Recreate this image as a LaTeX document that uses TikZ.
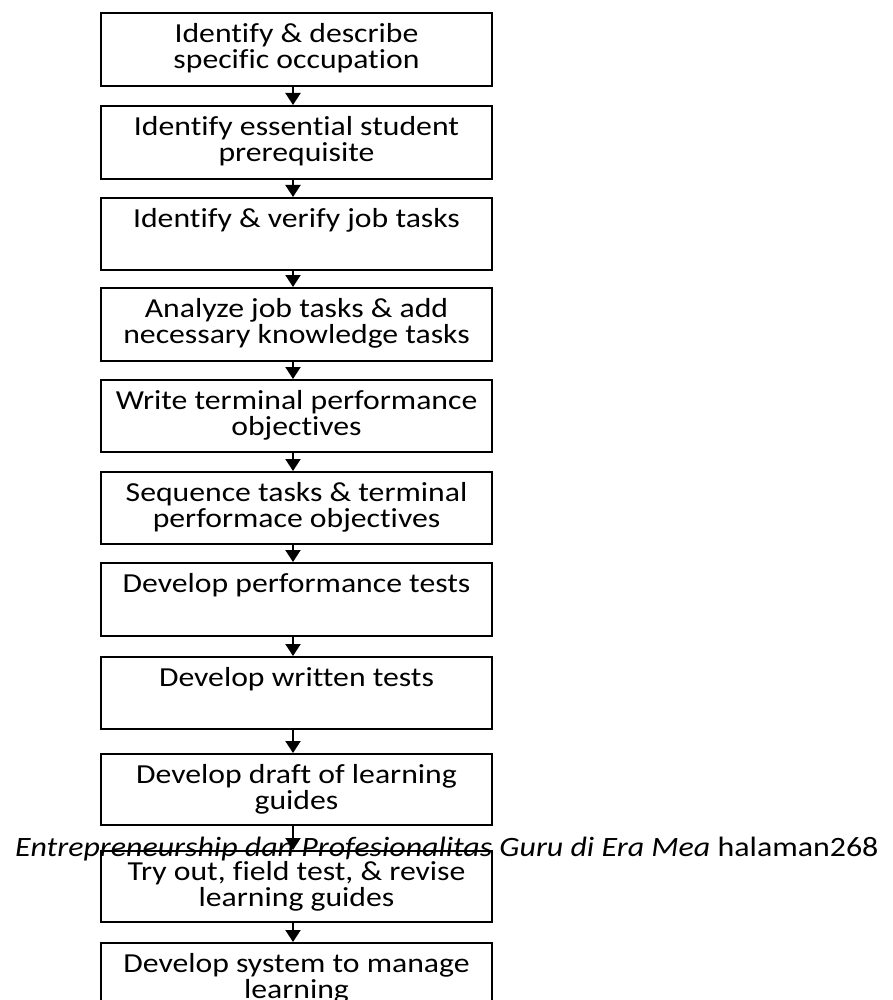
\documentclass[tikz,border=0pt]{standalone}
\usepackage{fontspec}
\setmainfont{Carlito}[FakeStretch=1.14, Ligatures={NoCommon}]
\newfontfamily\boxfont{Carlito}[FakeStretch=1.153, Ligatures={NoCommon}]
\usetikzlibrary{arrows.meta}
\tikzset{
  stepbox/.style={draw=black, line width=2pt, minimum width=391pt, inner sep=0pt, anchor=north},
  boxtext/.style={anchor=north, align=center, inner sep=0pt, font=\boxfont\fontsize{27.5}{26.5}\selectfont},
  flow/.style={line width=2pt, -{Triangle[width=15pt,length=12pt]}},
  caption/.style={anchor=base west, inner sep=0pt, font=\fontsize{28}{30}\selectfont}
}
\newcommand{\fl}{\rule{0pt}{20pt}}
\begin{document}
\begin{tikzpicture}[x=1pt,y=-1pt]
\useasboundingbox (0,0) rectangle (892,1000);
% boxes: top y, height
\node[stepbox, minimum height=73pt] (b1) at (296.5,12) {};
\node[stepbox, minimum height=73pt] (b2) at (296.5,105) {};
\node[stepbox, minimum height=72pt] (b3) at (296.5,197) {};
\node[stepbox, minimum height=73pt] (b4) at (296.5,287) {};
\node[stepbox, minimum height=72pt] (b5) at (296.5,379) {};
\node[stepbox, minimum height=72pt] (b6) at (296.5,471) {};
\node[stepbox, minimum height=73pt] (b7) at (296.5,562) {};
\node[stepbox, minimum height=72pt] (b8) at (296.5,656) {};
\node[stepbox, minimum height=71pt] (b9) at (296.5,753) {};
\node[stepbox, minimum height=71pt] (b10) at (296.5,850) {};
\node[stepbox, minimum height=80pt] (b11) at (296.5,942) {};
% texts
\node[boxtext] (t1) at ([yshift=-10pt]b1.north) {\fl Identify \& describe\\specific occupation};
\node[boxtext] (t2) at ([yshift=-10pt]b2.north) {\fl Identify essential student\\prerequisite};
\node[boxtext] (t3) at ([yshift=-10pt]b3.north) {\fl Identify \& verify job tasks};
\node[boxtext] (t4) at ([yshift=-10pt]b4.north) {\fl Analyze job tasks \& add\\necessary knowledge tasks};
\node[boxtext] (t5) at ([yshift=-10pt]b5.north) {\fl Write terminal performance\\objectives};
\node[boxtext] (t6) at ([yshift=-10pt]b6.north) {\fl Sequence tasks \& terminal\\performace objectives};
\node[boxtext] (t7) at ([yshift=-10pt]b7.north) {\fl Develop performance tests};
\node[boxtext] (t8) at ([yshift=-10pt]b8.north) {\fl Develop written tests};
\node[boxtext] (t9) at ([yshift=-10pt]b9.north) {\fl Develop draft of learning\\guides};
\node[boxtext] (t10) at ([yshift=-10pt]b10.north) {\fl Try out, field test, \& revise\\learning guides};
\node[boxtext] (t11) at ([yshift=-10pt]b11.north) {\fl Develop system to manage\\learning};
% arrows
\coordinate (ax) at (293,0);
\foreach \a/\b in {b1/b2,b2/b3,b3/b4,b4/b5,b5/b6,b6/b7,b7/b8,b8/b9,b9/b10,b10/b11}{
  \draw[flow] (\a.south -| ax) -- (\b.north -| ax);
}
% caption
\node[caption] (cap) at (15,856) {\textit{Entrepreneurship dan Profesionalitas Guru di Era Mea} halaman268};
\end{tikzpicture}
\end{document}
